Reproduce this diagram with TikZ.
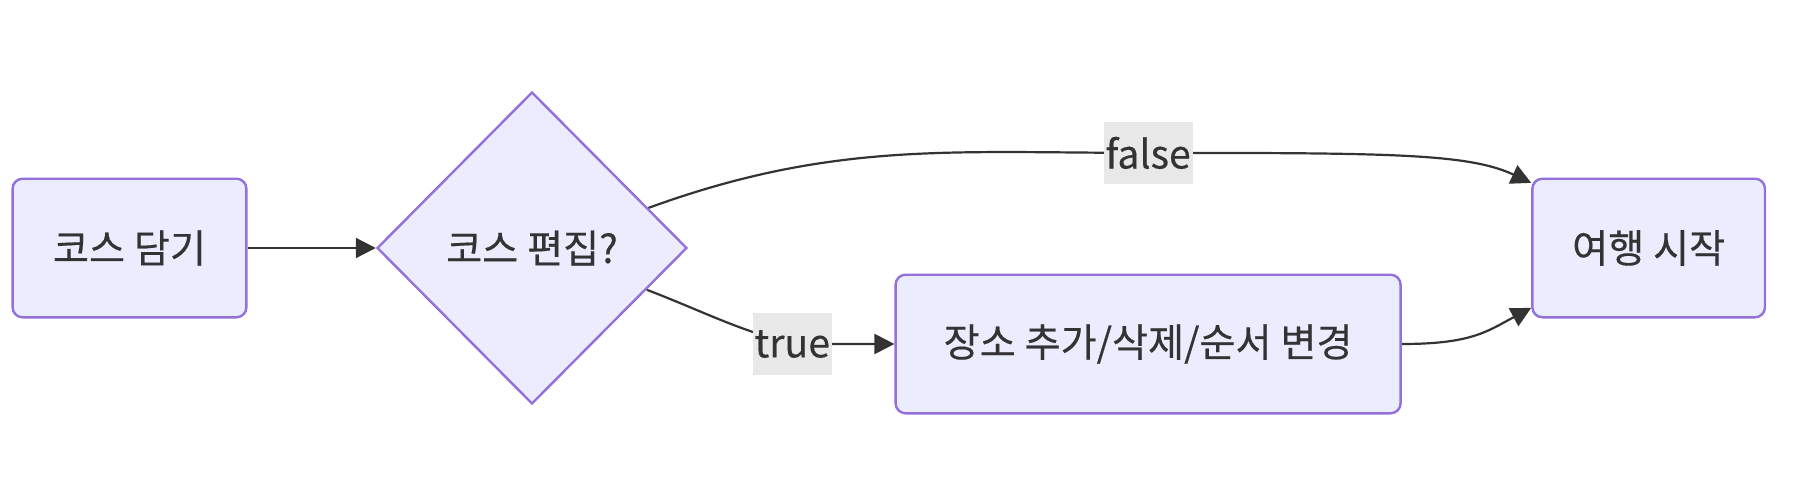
\documentclass[tikz,border=0pt]{standalone}
\usepackage{fontspec}
\setmainfont{Noto Sans CJK KR}
\newfontfamily\mmfont[FakeBold=0.4]{Noto Sans CJK KR}
\usepackage{tikz}
\usetikzlibrary{positioning,arrows.meta,shapes,calc,backgrounds}
\usepackage{xcolor}
\definecolor{mmfill}{HTML}{ECECFF}
\definecolor{mmline}{HTML}{9370DB}
\definecolor{mmedge}{HTML}{333333}
\definecolor{mmlabel}{HTML}{E8E8E8}

\begin{document}
\begin{tikzpicture}
\mmfont
\fontsize{19.6pt}{23pt}\selectfont
\tikzstyle{basenode}=[rounded corners=5pt, align=center, text=mmedge, draw=mmline, fill=mmfill, line width=1.2pt];
\tikzstyle{stepbox}=[basenode, minimum height=69.3pt];
\tikzstyle{decide}=[basenode, diamond, sharp corners, inner sep=0pt, minimum width=155pt, minimum height=156pt];
\tikzstyle{edgelbl}=[fill=mmlabel, text=mmedge, inner xsep=1pt, inner ysep=0pt, minimum height=31pt];
\tikzstyle{arr}=[line width=1.1pt, mmedge, -{Triangle[length=10pt,width=10pt]}];

\useasboundingbox (0,0) rectangle (898pt,-241pt);

\node[stepbox, minimum width=116.9pt] (pick) at (64.75pt,-124pt) {코스 담기};
\node[decide, right=64.1pt of pick] (edit) {코스 편집?};
\node[stepbox, minimum width=252.5pt, right=103.1pt of edit.east, yshift=-48pt] (change) {장소 추가/삭제/순서 변경};
\node[stepbox, minimum width=116.3pt, right=64.7pt of change.east, yshift=48pt] (start) {여행 시작};

\node[edgelbl] (falselbl) at ($(change.north)+(0,60.3pt)$) {false};
\node[edgelbl, left=31pt of change.west] (truelbl) {true};

\begin{scope}[on background layer]
\draw[arr] (pick) -- (edit);
\draw[arr] (edit.19.5) to[out=20,in=180] (falselbl.center) .. controls +(0:120pt) and +(155:35pt) .. (start.151.5);
\draw[arr] (edit.-20.8) to[out=-21,in=165] (truelbl.center) -- (change.west);
\draw[arr] (change.east) .. controls +(0:35pt) and +(208:25pt) .. (start.207.6);
\end{scope}

\end{tikzpicture}
\end{document}
